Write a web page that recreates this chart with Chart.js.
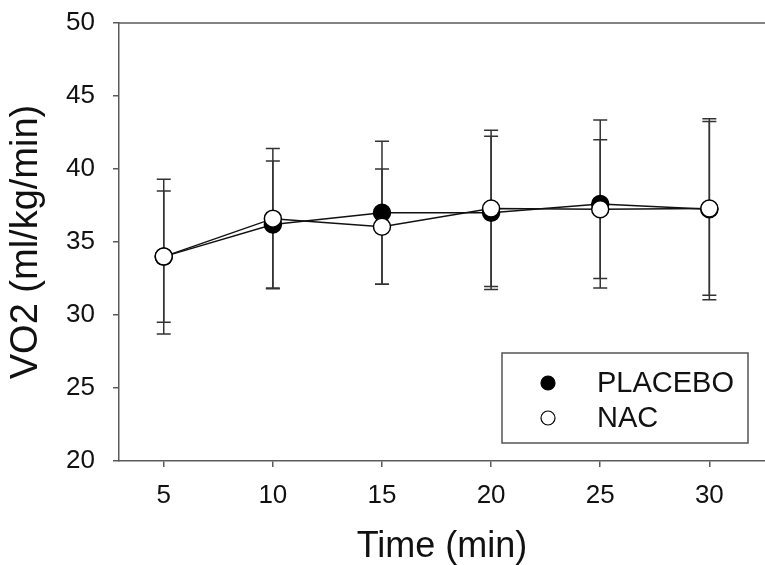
<!DOCTYPE html>
<html>
<head>
<meta charset="utf-8">
<script src="https://cdn.jsdelivr.net/npm/chart.js@4"></script>
<style>
  html, body { margin: 0; padding: 0; background: #fff; }
  #chart { display: block; }
</style>
</head>
<body>
<canvas id="chart" width="765" height="565"></canvas>
<script>
  // data
  const times = [5, 10, 15, 20, 25, 30];
  const placeboMean = [34.0, 36.2, 37.0, 37.0, 37.6, 37.25];
  const placeboSD = [4.5, 4.35, 4.9, 5.25, 5.75, 6.2];
  const nacMean = [34.0, 36.6, 36.05, 37.3, 37.25, 37.3];
  const nacSD = [5.3, 4.8, 3.95, 5.35, 4.75, 5.95];
  const xTicks = [5, 10, 15, 20, 25, 30];
  const yTicks = [20, 25, 30, 35, 40, 45, 50];

  const axisGray = '#5a5a5a';
  const font = 'Liberation Sans, Arial, sans-serif';

  // error bars, drawn under the markers
  const errorBars = {
    id: 'errorBars',
    beforeDatasetsDraw(chart) {
      const { ctx, scales: { x, y } } = chart;
      ctx.save();
      ctx.strokeStyle = '#333';
      ctx.lineWidth = 1.5;
      chart.data.datasets.forEach(ds => {
        ds.data.forEach((pt, i) => {
          const px = x.getPixelForValue(pt.x);
          const hi = y.getPixelForValue(pt.y + ds.sd[i]);
          const lo = y.getPixelForValue(pt.y - ds.sd[i]);
          ctx.beginPath();
          ctx.moveTo(px, hi); ctx.lineTo(px, lo);
          ctx.moveTo(px - 7, hi); ctx.lineTo(px + 7, hi);
          ctx.moveTo(px - 7, lo); ctx.lineTo(px + 7, lo);
          ctx.stroke();
        });
      });
      ctx.restore();
    }
  };

  // top frame line + legend box inside the plot
  const frameAndLegend = {
    id: 'frameAndLegend',
    afterDraw(chart) {
      const { ctx, chartArea } = chart;
      ctx.save();
      ctx.strokeStyle = axisGray;
      ctx.lineWidth = 1.5;
      ctx.beginPath();
      ctx.moveTo(chartArea.left, chartArea.top);
      ctx.lineTo(chart.width, chartArea.top);
      ctx.stroke();

      // legend
      ctx.strokeStyle = '#555';
      ctx.strokeRect(502, 353, 246, 90);
      const items = [chart.data.datasets[0], chart.data.datasets[1]];
      items.forEach((ds, i) => {
        const cy = 383 + i * 35;
        ctx.beginPath();
        ctx.arc(548, cy, 7, 0, Math.PI * 2);
        ctx.fillStyle = ds.pointBackgroundColor;
        ctx.fill();
        ctx.lineWidth = 1.2;
        ctx.strokeStyle = '#000';
        ctx.stroke();
        ctx.fillStyle = '#111';
        ctx.font = '29px ' + font;
        ctx.textBaseline = 'middle';
        ctx.textAlign = 'left';
        ctx.fillText(ds.label, 597, cy + 1);
      });
      ctx.restore();
    }
  };

  const toPoints = means => times.map((t, i) => ({ x: t, y: means[i] }));

  new Chart(document.getElementById('chart'), {
    type: 'line',
    data: {
      datasets: [{
        label: 'PLACEBO',
        data: toPoints(placeboMean),
        sd: placeboSD,
        borderColor: '#111',
        borderWidth: 1.5,
        pointRadius: 8.5,
        pointBorderWidth: 1.5,
        pointBorderColor: '#000',
        pointBackgroundColor: '#000',
        tension: 0,
        order: 1
      }, {
        label: 'NAC',
        data: toPoints(nacMean),
        sd: nacSD,
        borderColor: '#111',
        borderWidth: 1.5,
        pointRadius: 8.5,
        pointBorderWidth: 1.5,
        pointBorderColor: '#000',
        pointBackgroundColor: '#fff',
        tension: 0,
        order: 0
      }]
    },
    options: {
      responsive: false,
      animation: false,
      devicePixelRatio: 1,
      layout: { autoPadding: false, padding: { top: 23, right: 0, left: 0, bottom: 0 } },
      plugins: { legend: { display: false }, tooltip: { enabled: false } },
      scales: {
        x: {
          type: 'linear',
          min: 2.95,
          max: 32.55,
          afterBuildTicks: s => { s.ticks = xTicks.map(v => ({ value: v })); },
          afterFit: s => { s.height = 104; s.paddingLeft = 0; s.paddingRight = 0; },
          grid: { drawOnChartArea: false, drawTicks: true, tickLength: 6, color: axisGray, lineWidth: 1.5 },
          border: { display: true, color: axisGray, width: 1.5 },
          ticks: { color: '#111', font: { family: font, size: 26 }, padding: 13, maxRotation: 0 },
          title: {
            display: true, text: 'Time (min)', color: '#111',
            font: { family: font, size: 36, lineHeight: 1 }, padding: { top: 0, bottom: 0 }
          }
        },
        y: {
          min: 20,
          max: 50,
          afterBuildTicks: s => { s.ticks = yTicks.map(v => ({ value: v })); },
          afterFit: s => { s.width = 119; s.paddingTop = 0; s.paddingBottom = 0; },
          grid: { drawOnChartArea: false, drawTicks: true, tickLength: 6, color: axisGray, lineWidth: 1.5 },
          border: { display: true, color: axisGray, width: 1.5 },
          ticks: { color: '#111', font: { family: font, size: 26 }, padding: 18 },
          title: {
            display: true, text: 'VO2 (ml/kg/min)', color: '#111',
            font: { family: font, size: 38 }, padding: { top: 4, bottom: 4 }
          }
        }
      }
    },
    plugins: [errorBars, frameAndLegend]
  });
</script>
</body>
</html>
